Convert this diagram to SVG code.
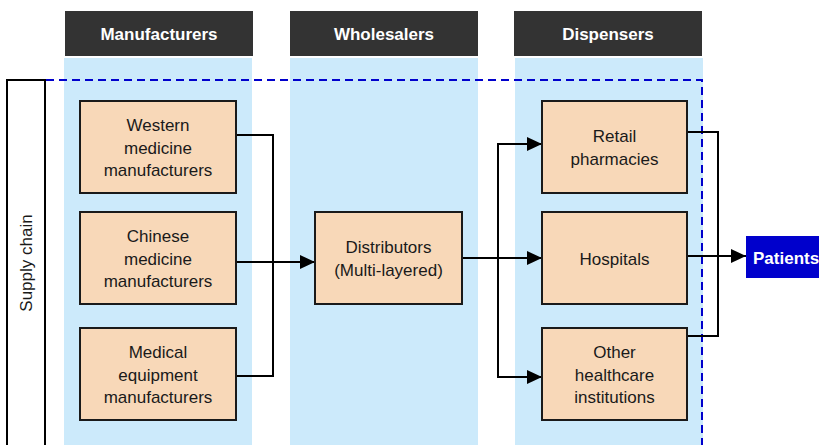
<svg xmlns="http://www.w3.org/2000/svg" width="819" height="445" viewBox="0 0 819 445">
<style>
.hdr{fill:#333333}
.hdrt{fill:#ffffff;font-family:"Liberation Sans",Arial,sans-serif;font-size:17px;font-weight:bold;text-anchor:middle}
.col{fill:#CCEAFB}
.box{fill:#F8D8B8;stroke:#1a1a1a;stroke-width:2}
.bt{fill:#1a1a1a;font-family:"Liberation Sans",Arial,sans-serif;font-size:17px;text-anchor:middle}
.ln{fill:none;stroke:#000;stroke-width:2}
</style>
<defs>
<marker id="ah" markerUnits="userSpaceOnUse" markerWidth="16" markerHeight="16" viewBox="0 0 16 16" refX="15" refY="8" orient="auto">
<path d="M0,1 L15,8 L0,15 Z" fill="#000"/>
</marker>
</defs>
<g id="columns">
<rect class="col" x="64" y="58" width="188" height="387"/>
<rect class="col" x="290" y="58" width="188" height="387"/>
<rect class="col" x="515" y="58" width="188" height="387"/>
</g>
<g id="hdr-manufacturers"><rect class="hdr" x="65" y="11" width="188" height="45"/><text class="hdrt" x="159" y="40">Manufacturers</text></g>
<g id="hdr-wholesalers"><rect class="hdr" x="290" y="11" width="188" height="45"/><text class="hdrt" x="384" y="40">Wholesalers</text></g>
<g id="hdr-dispensers"><rect class="hdr" x="514" y="11" width="188" height="45"/><text class="hdrt" x="608" y="40">Dispensers</text></g>
<g id="supply-chain">
<path d="M7,445 V80 H45 V445" fill="none" stroke="#000" stroke-width="2"/>
<text class="bt" transform="translate(32,263) rotate(-90)">Supply chain</text>
</g>
<g id="boundary">
<path d="M46,80 H702 V445" fill="none" stroke="#0000CC" stroke-width="2" stroke-dasharray="8,5"/>
</g>
<g id="connectors">
<path class="ln" d="M236,135 H273 V376 H236"/>
<path class="ln" d="M236,262 H315" marker-end="url(#ah)"/>
<path class="ln" d="M462,258 H542" marker-end="url(#ah)"/>
<path class="ln" d="M542,144 H498 V377 H542" marker-end="url(#ah)"/>
<path class="ln" d="M498,144 H542" marker-end="url(#ah)"/>
<path class="ln" d="M687,132 H718 V336 H687"/>
<path class="ln" d="M687,256 H746" marker-end="url(#ah)"/>
</g>
<g id="western"><rect class="box" x="80" y="101" width="156" height="92"/><text class="bt" x="158" y="131">Western</text><text class="bt" x="158" y="153.5">medicine</text><text class="bt" x="158" y="176">manufacturers</text></g>
<g id="chinese"><rect class="box" x="80" y="212" width="156" height="92"/><text class="bt" x="158" y="242">Chinese</text><text class="bt" x="158" y="264.5">medicine</text><text class="bt" x="158" y="287">manufacturers</text></g>
<g id="medical"><rect class="box" x="80" y="328" width="156" height="92"/><text class="bt" x="158" y="358">Medical</text><text class="bt" x="158" y="380.5">equipment</text><text class="bt" x="158" y="403">manufacturers</text></g>
<g id="distributors"><rect class="box" x="315" y="212" width="147" height="92"/><text class="bt" x="388.5" y="253">Distributors</text><text class="bt" x="388.5" y="275.5">(Multi-layered)</text></g>
<g id="retail"><rect class="box" x="542" y="101" width="145" height="92"/><text class="bt" x="614.5" y="142">Retail</text><text class="bt" x="614.5" y="164.5">pharmacies</text></g>
<g id="hospitals"><rect class="box" x="542" y="212" width="145" height="92"/><text class="bt" x="614.5" y="265">Hospitals</text></g>
<g id="other"><rect class="box" x="542" y="328" width="145" height="92"/><text class="bt" x="614.5" y="358">Other</text><text class="bt" x="614.5" y="380.5">healthcare</text><text class="bt" x="614.5" y="403">institutions</text></g>
<g id="patients"><rect x="746" y="236" width="73" height="42" fill="#0000CC"/><text x="753" y="264" fill="#ffffff" font-family="'Liberation Sans',Arial,sans-serif" font-size="17" font-weight="bold">Patients</text></g>
</svg>
